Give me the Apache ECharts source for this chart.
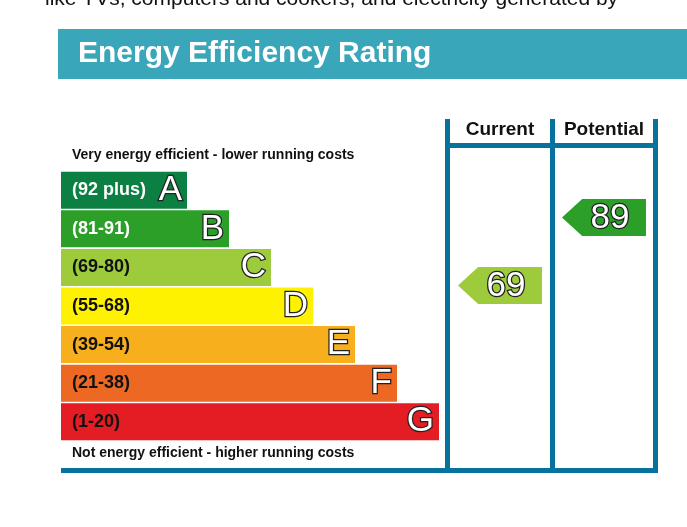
<!DOCTYPE html>
<html>
<head>
<meta charset="utf-8">
<script src="https://cdn.jsdelivr.net/npm/echarts@6/dist/echarts.min.js"></script>
<style>
  html, body { margin: 0; padding: 0; background: #fff; }
  #chart { width: 687px; height: 527px; }
</style>
</head>
<body>
<div id="chart"></div>
<script>
// bands of the rating scale, top (best) to bottom
var bandLetters = ['A', 'B', 'C', 'D', 'E', 'F', 'G'];
var bandRanges = ['(92 plus)', '(81-91)', '(69-80)', '(55-68)', '(39-54)', '(21-38)', '(1-20)'];
var bandMins = [92, 81, 69, 55, 39, 21, 1];
var bandLengths = [3, 4, 5, 6, 7, 8, 9];
// ratings
var ratingColumns = ['Current', 'Potential'];
var ratingValues = [69, 89];

var bandColors = ['#0c8043', '#2c9f29', '#9dcb3c', '#fff200', '#f7af1d', '#ed6823', '#e31d23'];
var FONT = '"Liberation Sans", Arial, sans-serif';
var FRAME = '#07729d';

function bandIndex(v) {
    for (var i = 0; i < bandMins.length; i++) {
        if (v >= bandMins[i]) return i;
    }
    return bandMins.length - 1;
}

var myChart = echarts.init(document.getElementById('chart'));
myChart.setOption({
    animation: false,
    textStyle: { fontFamily: FONT },
    grid: [
        { left: 61, top: 171, width: 378, height: 270 },
        { left: 448, top: 180, width: 208, height: 340 }
    ],
    xAxis: [
        { gridIndex: 0, type: 'value', min: 0, max: 9, show: false },
        {
            gridIndex: 1, type: 'category', position: 'top', data: ratingColumns,
            axisLine: { show: false }, axisTick: { show: false }, splitLine: { show: false },
            axisLabel: {
                interval: 0, margin: 50, verticalAlign: 'middle', color: '#111',
                fontSize: 19, fontWeight: 'bold', fontFamily: FONT
            }
        }
    ],
    yAxis: [
        { gridIndex: 0, type: 'category', data: bandLetters, inverse: true, show: false },
        { gridIndex: 1, type: 'value', min: 0, max: 100, show: false }
    ],
    graphic: [
        {
            type: 'text', x: 45, y: -1,
            style: { text: 'like TVs, computers and cookers, and electricity generated by', font: '21px ' + FONT, fill: '#111', verticalAlign: 'middle' }
        },
        { type: 'rect', shape: { x: 58, y: 29, width: 640, height: 50 }, style: { fill: '#3aa6b9' } },
        {
            type: 'text', x: 78, y: 54,
            style: { text: 'Energy Efficiency Rating', font: 'bold 30px ' + FONT, fill: '#fff', verticalAlign: 'middle' }
        },
        {
            type: 'text', x: 72, y: 155,
            style: { text: 'Very energy efficient - lower running costs', font: 'bold 14px ' + FONT, fill: '#111', verticalAlign: 'middle' }
        },
        {
            type: 'text', x: 72, y: 453,
            style: { text: 'Not energy efficient - higher running costs', font: 'bold 14px ' + FONT, fill: '#111', verticalAlign: 'middle' }
        },
        // frame
        { type: 'rect', shape: { x: 445, y: 119, width: 5, height: 354 }, style: { fill: FRAME } },
        { type: 'rect', shape: { x: 550, y: 119, width: 5, height: 354 }, style: { fill: FRAME } },
        { type: 'rect', shape: { x: 653, y: 119, width: 5, height: 354 }, style: { fill: FRAME } },
        { type: 'rect', shape: { x: 445, y: 143, width: 213, height: 5 }, style: { fill: FRAME } },
        { type: 'rect', shape: { x: 61, y: 468, width: 597, height: 5 }, style: { fill: FRAME } }
    ],
    series: [
        {
            type: 'bar',
            xAxisIndex: 0, yAxisIndex: 0,
            barWidth: 37,
            data: bandLengths.map(function (v, i) {
                return {
                    value: v,
                    itemStyle: { color: bandColors[i] },
                    label: { color: i < 2 ? '#fff' : '#111' }
                };
            }),
            label: {
                show: true, position: 'insideLeft', distance: 11,
                fontSize: 18, fontWeight: 'bold', fontFamily: FONT,
                formatter: function (p) { return bandRanges[p.dataIndex]; }
            }
        },
        {
            type: 'bar',
            xAxisIndex: 0, yAxisIndex: 0,
            barWidth: 37, barGap: '-100%',
            itemStyle: { color: 'rgba(0,0,0,0)' },
            data: bandLengths,
            label: {
                show: true, position: 'insideRight', distance: 5,
                fontSize: 35, fontFamily: FONT, color: '#fff',
                textBorderColor: '#222', textBorderWidth: 2.5,
                formatter: function (p) { return bandLetters[p.dataIndex]; }
            }
        },
        {
            type: 'scatter',
            xAxisIndex: 1, yAxisIndex: 1,
            symbol: 'path://M0 0.5 L0.24 0 L1 0 L1 1 L0.24 1 Z',
            symbolSize: [84, 37],
            data: ratingValues.map(function (v, i) {
                return {
                    value: [ratingColumns[i], v],
                    itemStyle: { color: bandColors[bandIndex(v)], opacity: 1 }
                };
            }),
            label: {
                show: true, position: 'inside', offset: [6, 1],
                fontSize: 35, fontFamily: FONT, color: '#fff',
                textBorderColor: '#222', textBorderWidth: 2.5,
                formatter: function (p) { return p.value[1]; }
            }
        }
    ]
});
</script>
</body>
</html>
